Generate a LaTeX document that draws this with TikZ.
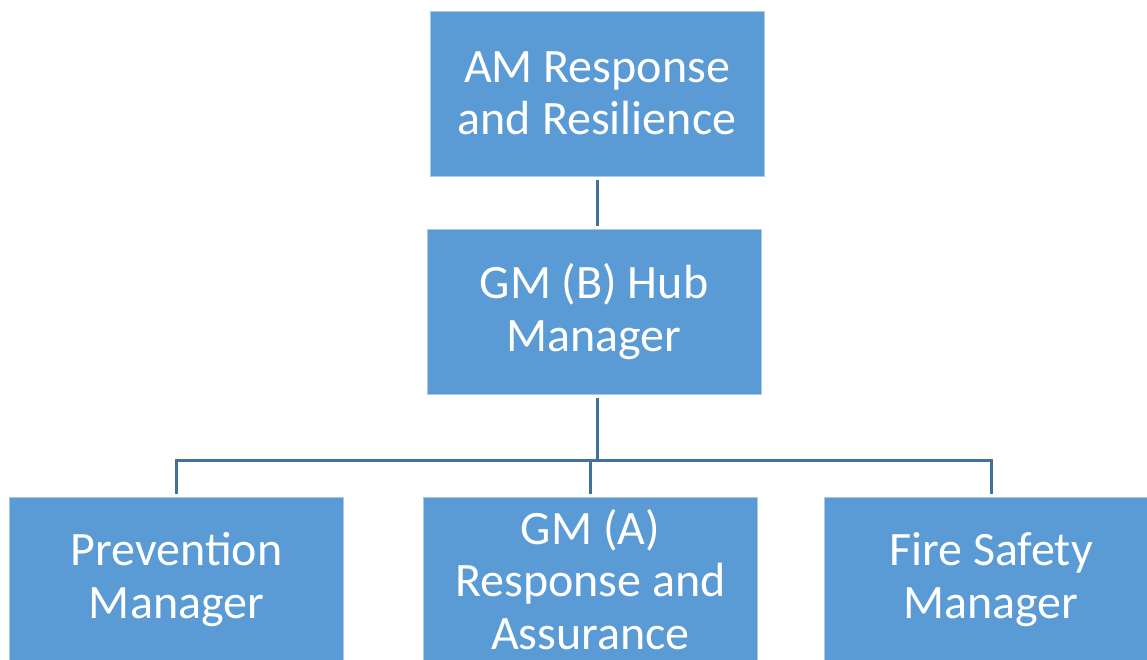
\documentclass[tikz,border=0pt]{standalone}
\usepackage{fontspec}
\setmainfont{Carlito}
\definecolor{boxblue}{HTML}{5B9BD5}
\definecolor{boxedge}{HTML}{A9C8EA}
\definecolor{linkblue}{HTML}{41719C}
\begin{document}
\begin{tikzpicture}[x=1pt,y=-1pt,
  orgbox/.style={rectangle, fill=boxblue, draw=boxedge, line width=1pt,
    minimum width=334pt, minimum height=165pt, inner sep=0pt,
    text=white, align=center, font=\fontsize{48}{52.5}\selectfont},
  link/.style={draw=linkblue, line width=3pt}]
  \useasboundingbox (0,0) rectangle (1147,659);
  \clip (0,0) rectangle (1147,659);
  \fill[white] (0,0) rectangle (1147,659);

  % organisation chart boxes
  \node[orgbox] (top)   at (597,93.5)  {AM Response\\and Resilience};
  \node[orgbox] (mid)   at (594,311.5) {GM (B) Hub\\Manager};
  \node[orgbox] (left)  at (176.5,579.5) {Prevention\\Manager};
  \node[orgbox] (centre) at (590.5,579.5) {GM (A)\\Response and\\Assurance};
  \node[orgbox] (right) at (991,579.5) {Fire Safety\\Manager};

  % reporting lines
  \coordinate (bus) at (597,460);
  \draw[link] ([yshift=-3pt]top.south) -- ([yshift=3pt]top.south |- mid.north);
  \draw[link] ([yshift=-3pt]top.south |- mid.south) -- (bus);
  \draw[link] (bus) -| ([yshift=3pt]left.north);
  \draw[link] (bus) -| ([yshift=3pt]right.north);
  \draw[link] (bus -| centre.north) -- ([yshift=3pt]centre.north);
\end{tikzpicture}
\end{document}
